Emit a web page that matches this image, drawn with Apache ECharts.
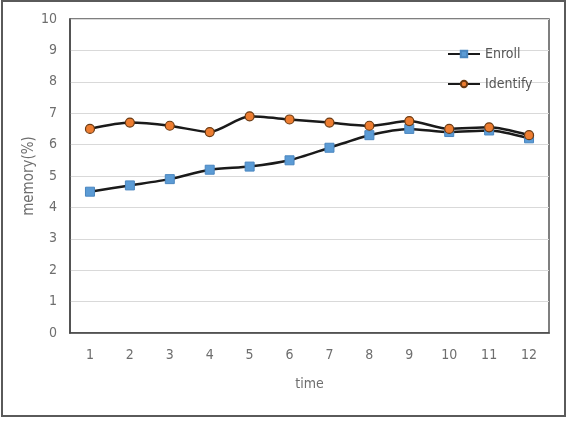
<!DOCTYPE html>
<html>
<head>
<meta charset="utf-8">
<script src="https://cdn.jsdelivr.net/npm/echarts@6/dist/echarts.min.js"></script>
<style>
  html, body { margin: 0; padding: 0; background: #fff; }
  #main { width: 572px; height: 424px; }
</style>
</head>
<body>
<div id="main"></div>
<script>
// data
var times = ['1', '2', '3', '4', '5', '6', '7', '8', '9', '10', '11', '12'];
var enroll = [4.5, 4.7, 4.9, 5.2, 5.3, 5.5, 5.9, 6.3, 6.5, 6.4, 6.45, 6.2];
var identify = [6.5, 6.7, 6.6, 6.4, 6.9, 6.8, 6.7, 6.6, 6.75, 6.5, 6.55, 6.3];

var labelFont = '"Liberation Sans Narrow", "DejaVu Sans Condensed", "Liberation Sans", sans-serif';
var gray = '#6e6e6e';

var myChart = echarts.init(document.getElementById('main'));
var option = {
    animation: false,
    graphic: [{
        type: 'rect',
        shape: { x: 2, y: 1, width: 563, height: 415 },
        style: { fill: 'none', stroke: '#5a5a5a', lineWidth: 2 }
    }],
    grid: {
        left: 70, top: 19, right: 23, bottom: 91,
        show: true,
        borderColor: '#555',
        borderWidth: 1.5
    },
    legend: {
        orient: 'vertical',
        left: 442,
        top: 42,
        itemWidth: 32,
        itemHeight: 8,
        itemGap: 16,
        textStyle: { fontFamily: labelFont, fontSize: 14, color: '#555' },
        data: ['Enroll', 'Identify']
    },
    xAxis: {
        type: 'category',
        data: times,
        boundaryGap: true,
        name: 'time',
        nameLocation: 'middle',
        nameGap: 44,
        nameMoveOverlap: false,
        nameTextStyle: { fontFamily: labelFont, fontSize: 14, color: gray },
        axisLine: { lineStyle: { color: '#444', width: 1.5 } },
        axisTick: { show: false },
        axisLabel: { fontFamily: labelFont, fontSize: 14, color: gray, margin: 15 }
    },
    yAxis: {
        type: 'value',
        min: 0,
        max: 10,
        interval: 1,
        name: 'memory(%)',
        nameLocation: 'middle',
        nameGap: 33,
        nameMoveOverlap: false,
        nameTextStyle: { fontFamily: labelFont, fontSize: 15, color: gray },
        axisLine: { show: true, lineStyle: { color: '#444', width: 1.5 } },
        axisTick: { show: false },
        axisLabel: { fontFamily: labelFont, fontSize: 14, color: gray, margin: 13 },
        splitLine: { lineStyle: { color: '#d9d9d9', width: 1 } }
    },
    series: [{
        name: 'Enroll',
        type: 'line',
        data: enroll,
        smooth: 0.25,
        symbol: 'rect',
        symbolSize: 9,
        lineStyle: { color: '#1a1a1a', width: 2.5 },
        itemStyle: { color: '#5B9BD5', borderColor: '#4a86bf', borderWidth: 1 }
    }, {
        name: 'Identify',
        type: 'line',
        data: identify,
        smooth: 0.25,
        symbol: 'circle',
        symbolSize: 9,
        lineStyle: { color: '#1a1a1a', width: 2.5 },
        itemStyle: { color: '#ED7D31', borderColor: '#6b3a12', borderWidth: 1.2 }
    }]
};
myChart.setOption(option);
</script>
</body>
</html>
